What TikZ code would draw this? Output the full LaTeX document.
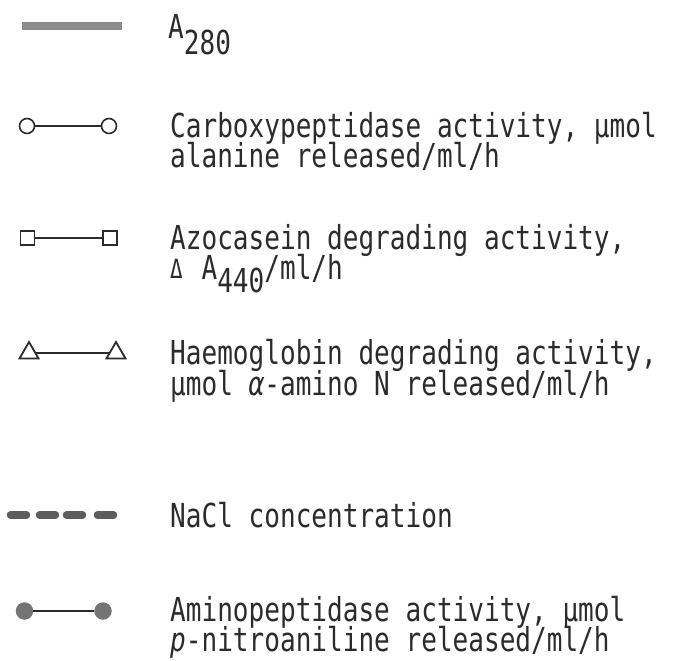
\documentclass[tikz,border=0pt]{standalone}
\usepackage{fontspec}
\usetikzlibrary{shapes.geometric}
\newfontfamily\tw[FakeStretch=0.79]{DejaVu Sans Mono}
\definecolor{ink}{HTML}{2B2B2B}
\definecolor{greyfill}{HTML}{747474}
\definecolor{barfill}{HTML}{8C8C8C}
% subscript set at full size on a lowered baseline
\newcommand\lowsub[2]{\raisebox{-#1pt}{#2}}
\newcommand\smalldelta{\makebox[15.7pt][l]{\raisebox{0.5pt}{\scalebox{0.8}{Δ}}}}
\tikzset{
  legtext/.style={anchor=base west, inner sep=0pt, text=ink,
    font=\tw\fontsize{33}{33}\selectfont},
  link/.style={draw=ink, line width=2.4pt},
  opencirc/.style={circle, draw=ink, line width=1.6pt, minimum size=15pt, inner sep=0pt},
  opensq/.style={rectangle, draw=ink, line width=1.8pt, minimum size=14pt, inner sep=0pt},
  opentri/.style={regular polygon, regular polygon sides=3, draw=ink, line width=1.8pt,
    minimum size=22pt, inner sep=0pt},
  fulldot/.style={circle, fill=greyfill, minimum size=17.5pt, inner sep=0pt},
  dashseg/.style={draw=greyfill!80!black, line width=7.5pt, line cap=round},
}
\begin{document}
\begin{tikzpicture}[x=1pt,y=-1pt]
\useasboundingbox (0,0) rectangle (684,660);

% A280 trace
\fill[barfill] (22,22) rectangle (122,30);
\node[legtext] (t1) at (168,39) {A\lowsub{16}{280}};

% carboxypeptidase
\node[opencirc] (c1) at (27,126) {};
\node[opencirc] (c2) at (109,126) {};
\draw[link] (c1) -- (c2);
\node[legtext] (t2a) at (170,138) {Carboxypeptidase activity, μmol};
\node[legtext] (t2b) at (170,168) {alanine released/ml/h};

% azocasein
\node[opensq] (s1) at (27.5,238) {};
\node[opensq] (s2) at (110,238) {};
\draw[link] (s1) -- (s2);
\node[legtext] (t3a) at (170,249) {Azocasein degrading activity,};
\node[legtext] (t3b) at (170,279) {\smalldelta{} A\lowsub{13}{440}/ml/h};

% haemoglobin
\node[opentri] (r1) at (29,353) {};
\node[opentri] (r2) at (116,353) {};
\draw[link] (r1) -- (r2);
\node[legtext] (t4a) at (170,364) {Haemoglobin degrading activity,};
\node[legtext] (t4b) at (170,395) {μmol {\itshape α}-amino N released/ml/h};

% NaCl
\draw[dashseg] (10.5,515) -- (26.5,515);
\draw[dashseg] (39.5,515) -- (55.5,515);
\draw[dashseg] (66.5,515) -- (82.5,515);
\draw[dashseg] (97.5,515) -- (113.5,515);
\node[legtext] (t5) at (170,527) {NaCl concentration};

% aminopeptidase
\node[fulldot] (d1) at (24.5,611) {};
\node[fulldot] (d2) at (103,611) {};
\draw[link] (d1) -- (d2);
\node[legtext] (t6a) at (170,621) {Aminopeptidase activity, μmol};
\node[legtext] (t6b) at (170,651) {{\itshape p}-nitroaniline released/ml/h};
\end{tikzpicture}
\end{document}
